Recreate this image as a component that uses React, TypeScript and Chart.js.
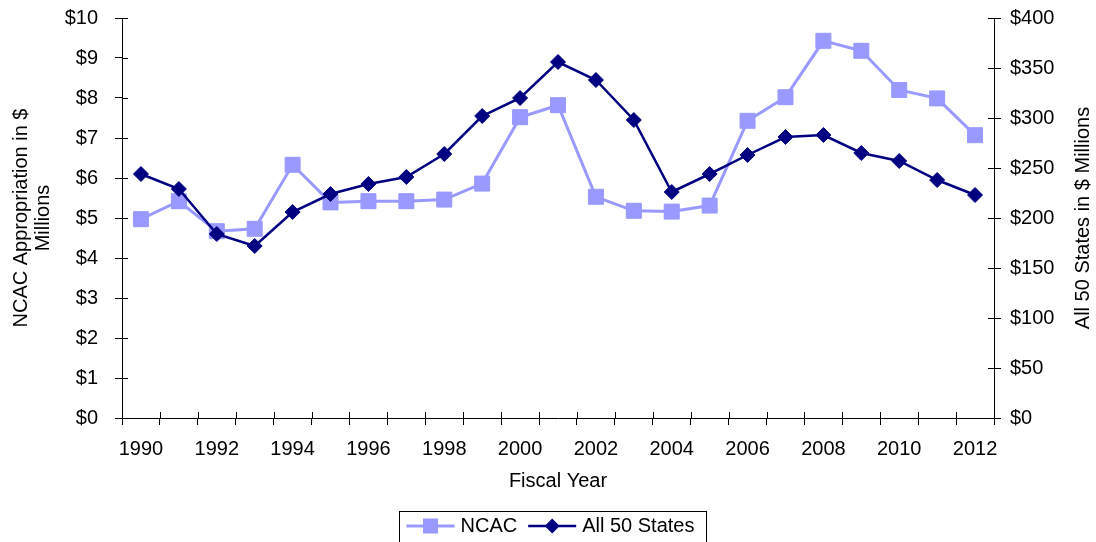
import React, { useEffect, useRef } from "react";
import { Chart, registerables } from "chart.js";

Chart.register(...registerables);

const FONT = '"Liberation Sans", Arial, Helvetica, sans-serif';

const years = [
  "1990", "1991", "1992", "1993", "1994", "1995", "1996", "1997", "1998", "1999", "2000", "2001",
  "2002", "2003", "2004", "2005", "2006", "2007", "2008", "2009", "2010", "2011", "2012",
];

// NCAC appropriation, $ millions (left axis)
const ncacValues = [
  4.97, 5.42, 4.67, 4.73, 6.33, 5.39, 5.42, 5.42, 5.46, 5.86, 7.52, 7.82,
  5.53, 5.18, 5.16, 5.31, 7.43, 8.02, 9.43, 9.18, 8.2, 7.99, 7.07,
];

// All 50 states, $ millions (right axis)
const allStatesValues = [
  244, 229, 184, 172, 206, 224, 234, 241, 264, 302, 320, 356,
  338, 298, 226, 244, 263, 281, 283, 265, 257, 238, 223,
];

const leftAxisLabels = { min: 0, max: 10, step: 1 };
const rightAxisLabels = { min: 0, max: 400, step: 50 };

const seriesNames = ["NCAC", "All 50 States"];
const leftTitle = ["NCAC Appropriation in $", "Millions"];
const rightTitle = "All 50 States in $ Millions";
const xTitle = "Fiscal Year";

const NCAC_COLOR = "#9999FF";
const STATES_COLOR = "#000080";

const innerTicksPlugin = {
  id: "innerTicks",
  beforeDatasetsDraw(chart: any) {
    const { ctx, chartArea, scales } = chart;
    ctx.save();
    ctx.strokeStyle = "#000";
    ctx.lineWidth = 1;
    ctx.beginPath();
    const xs = scales.x;
    const n = xs.ticks.length;
    for (let i = 0; i <= n; i++) {
      const px = Math.round(xs.left + (i * xs.width) / n) + 0.5;
      ctx.moveTo(px, chartArea.bottom - 6);
      ctx.lineTo(px, chartArea.bottom);
    }
    const yl = scales.yLeft;
    yl.ticks.forEach((t: any) => {
      const py = Math.round(yl.getPixelForValue(t.value)) + 0.5;
      ctx.moveTo(chartArea.left, py);
      ctx.lineTo(chartArea.left + 6, py);
    });
    const yr = scales.yRight;
    yr.ticks.forEach((t: any) => {
      const py = Math.round(yr.getPixelForValue(t.value)) + 0.5;
      ctx.moveTo(chartArea.right - 6, py);
      ctx.lineTo(chartArea.right, py);
    });
    ctx.stroke();
    ctx.restore();
  },
};

function drawMarker(ctx: CanvasRenderingContext2D, style: string, x: number, y: number, r: number, color: string) {
  ctx.fillStyle = color;
  ctx.beginPath();
  if (style === "rect") {
    const s = Math.SQRT1_2 * r;
    ctx.rect(x - s, y - s, 2 * s, 2 * s);
  } else {
    ctx.moveTo(x, y - r);
    ctx.lineTo(x + r, y);
    ctx.lineTo(x, y + r);
    ctx.lineTo(x - r, y);
    ctx.closePath();
  }
  ctx.fill();
}

const decorPlugin = {
  id: "decor",
  afterDraw(chart: any) {
    const { ctx, chartArea } = chart;
    ctx.save();
    ctx.font = `20px ${FONT}`;
    ctx.fillStyle = "#000";

    // right axis title (reads bottom-to-top)
    ctx.save();
    ctx.translate(1083, (chartArea.top + chartArea.bottom) / 2);
    ctx.rotate(-Math.PI / 2);
    ctx.textAlign = "center";
    ctx.textBaseline = "middle";
    ctx.fillText(rightTitle, 0, 0);
    ctx.restore();

    // legend
    const datasets = chart.data.datasets;
    const widths = datasets.map((d: any) => ctx.measureText(d.label).width);
    const lineLen = 48;
    const total = 7 + (54 + widths[0] + 11) + (54 + widths[1]) + 12;
    const cx = (chartArea.left + chartArea.right) / 2 - 6;
    const boxLeft = Math.round(cx - total / 2) + 0.5;
    const boxTop = 511.5;
    ctx.strokeStyle = "#000";
    ctx.lineWidth = 1;
    ctx.strokeRect(boxLeft, boxTop, Math.round(total), 40);
    const ly = 526;
    let x = boxLeft + 7;
    datasets.forEach((d: any, i: number) => {
      ctx.strokeStyle = d.borderColor;
      ctx.lineWidth = d.borderWidth;
      ctx.beginPath();
      ctx.moveTo(x, ly);
      ctx.lineTo(x + lineLen, ly);
      ctx.stroke();
      drawMarker(ctx, d.pointStyle, x + lineLen / 2, ly, d.pointRadius, d.pointBackgroundColor);
      ctx.fillStyle = "#000";
      ctx.textAlign = "left";
      ctx.textBaseline = "middle";
      ctx.fillText(d.label, x + 54, ly);
      x += 54 + widths[i] + 11;
    });
    ctx.restore();
  },
};

export default function App() {
  const canvasRef = useRef<HTMLCanvasElement | null>(null);

  useEffect(() => {
    if (!canvasRef.current) return;
    const font = { family: FONT, size: 20 };
    const chart = new Chart(canvasRef.current, {
      type: "line",
      data: {
        labels: years,
        datasets: [
          {
            label: seriesNames[0],
            data: ncacValues,
            yAxisID: "yLeft",
            borderColor: NCAC_COLOR,
            backgroundColor: NCAC_COLOR,
            pointBackgroundColor: NCAC_COLOR,
            pointBorderColor: NCAC_COLOR,
            pointStyle: "rect",
            pointRadius: 10.6,
            pointBorderWidth: 1,
            borderWidth: 3,
            tension: 0,
            order: 2,
          },
          {
            label: seriesNames[1],
            data: allStatesValues,
            yAxisID: "yRight",
            borderColor: STATES_COLOR,
            backgroundColor: STATES_COLOR,
            pointBackgroundColor: STATES_COLOR,
            pointBorderColor: STATES_COLOR,
            pointStyle: "rectRot",
            pointRadius: 7.5,
            pointBorderWidth: 1,
            borderWidth: 2.5,
            tension: 0,
            order: 1,
          },
        ],
      },
      options: {
        animation: false,
        responsive: true,
        maintainAspectRatio: false,
        layout: { padding: { top: 18, left: 0, right: 0, bottom: 0 } },
        plugins: {
          legend: { display: false },
          tooltip: { enabled: false },
        },
        scales: {
          x: {
            type: "category",
            offset: true,
            grid: {
              offset: true,
              drawOnChartArea: false,
              drawTicks: true,
              tickLength: 7,
              color: "#000",
            },
            border: { display: true, color: "#000", width: 1 },
            ticks: {
              autoSkip: false,
              maxRotation: 0,
              minRotation: 0,
              padding: 12,
              color: "#000",
              font,
              callback: (_v: any, i: number) => (i % 2 === 0 ? years[i] : ""),
            },
            title: {
              display: true,
              text: xTitle,
              color: "#000",
              font,
              padding: { top: 0, bottom: 49 },
            },
            afterFit: (s: any) => {
              s.height = 124;
            },
          },
          yLeft: {
            type: "linear",
            position: "left",
            min: leftAxisLabels.min,
            max: leftAxisLabels.max,
            grid: { drawOnChartArea: false, drawTicks: true, tickLength: 7, color: "#000" },
            border: { display: true, color: "#000", width: 1 },
            ticks: {
              stepSize: leftAxisLabels.step,
              padding: 17,
              color: "#000",
              font,
              callback: (v: any) => "$" + v,
            },
            title: {
              display: true,
              text: leftTitle,
              color: "#000",
              font: { family: FONT, size: 20, lineHeight: 1.1 },
              padding: { top: 10, bottom: 0 },
            },
            afterFit: (s: any) => {
              s.width = 122;
              s.paddingTop = 12;
              s.paddingBottom = 12;
            },
          },
          yRight: {
            type: "linear",
            position: "right",
            min: rightAxisLabels.min,
            max: rightAxisLabels.max,
            grid: { drawOnChartArea: false, drawTicks: true, tickLength: 7, color: "#000" },
            border: { display: true, color: "#000", width: 1 },
            ticks: {
              stepSize: rightAxisLabels.step,
              padding: 9,
              color: "#000",
              font,
              callback: (v: any) => "$" + v,
            },
            afterFit: (s: any) => {
              s.width = 102;
              s.paddingTop = 12;
              s.paddingBottom = 12;
            },
          },
        },
      },
      plugins: [innerTicksPlugin, decorPlugin],
    });
    return () => chart.destroy();
  }, []);

  return (
    <div style={{ position: "absolute", left: 0, top: 0, width: 1096, height: 542, background: "#fff" }}>
      <canvas ref={canvasRef} />
    </div>
  );
}
